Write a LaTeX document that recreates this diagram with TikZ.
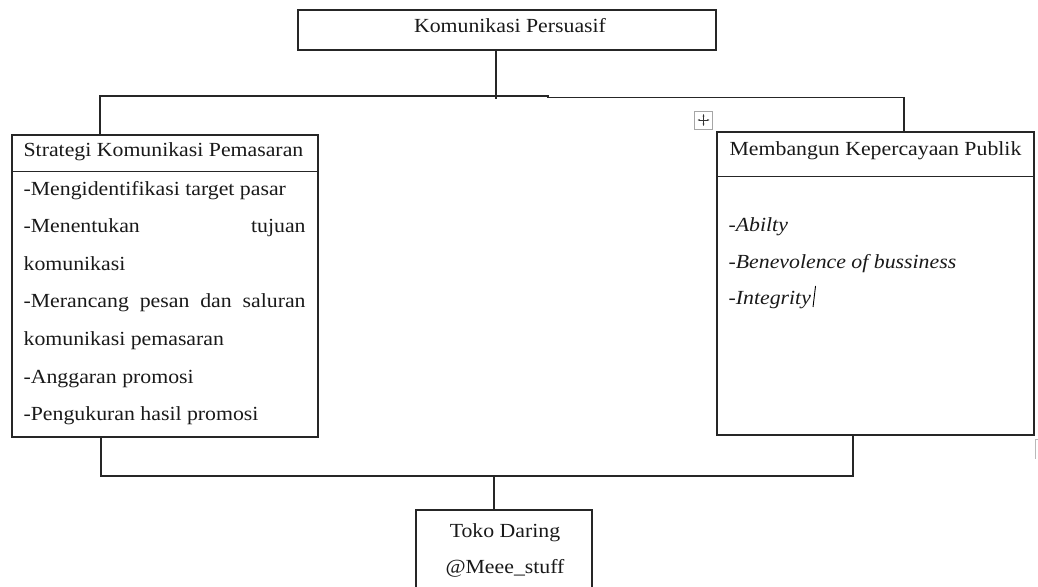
\documentclass[tikz,border=0pt]{standalone}
\usepackage{fontspec}
\setmainfont{Liberation Serif}[FakeStretch=1.09]
\usetikzlibrary{arrows.meta,calc}
\newcommand\fsz{\fontsize{20pt}{23pt}\selectfont}
\begin{document}
\begin{tikzpicture}[x=1pt,y=-1pt, line width=1.2pt, black!85,
  box/.style={draw, rectangle, inner sep=0pt},
  txt/.style={anchor=base west, inner sep=0pt, font=\fsz, text=black!90},
  ctxt/.style={anchor=base, inner sep=0pt, font=\fsz, text=black!90},
  itx/.style={anchor=base west, inner sep=0pt, font=\fsz\itshape, text=black!90}]
\useasboundingbox (0,0) rectangle (1038,586);
% boxes
\node[box, minimum width=418pt, minimum height=40pt] (top) at (507,30) {};
\node[box, minimum width=306pt, minimum height=302pt] (left) at (165,286) {};
\node[box, minimum width=317pt, minimum height=303pt] (right) at (875.5,283.5) {};
\node[box, minimum width=176pt, minimum height=90pt] (bot) at (504,555) {};
% header separators
\draw ([yshift=-37pt]left.north west) -- ([yshift=-37pt]left.north east);
\draw ([yshift=-45pt]right.north west) -- ([yshift=-45pt]right.north east);
% texts
\node[ctxt] (toptxt) at (510,33) {Komunikasi Persuasif};
\node[txt] (l0) at (23,156) {Strategi Komunikasi Pemasaran};
\node[txt] (l1) at (23,195) {-Mengidentifikasi target pasar};
\node[txt] (l2) at (23,232.6) {\makebox[282pt][s]{-Menentukan tujuan}};
\node[txt] (l3) at (23,270.2) {komunikasi};
\node[txt] (l4) at (23,307.8) {\makebox[282pt][s]{-Merancang pesan dan saluran}};
\node[txt] (l5) at (23,345.4) {komunikasi pemasaran};
\node[txt] (l6) at (23,383) {-Anggaran promosi};
\node[txt] (l7) at (23,420.6) {-Pengukuran hasil promosi};
\node[txt] (r0) at (729,155) {Membangun Kepercayaan Publik};
\node[itx] (r1) at (728,231) {-Abilty};
\node[itx] (r2) at (728,268) {-Benevolence of bussiness};
\node[itx] (r3) at (728,304) {-Integrity};
\node[ctxt] (b1) at (505,537) {Toko Daring};
\node[ctxt] (b2) at (505,573) {@Meee\_stuff};
% cursor
\draw[line width=0.9pt, black] ($(r3.base east)+(1.5,3)$) -- ++(2.5,-21);
% move handle
\node[draw=gray!70, line width=0.9pt, minimum size=18pt, inner sep=0pt] (handle) at (703.5,120) {};
\draw[gray!40!black, line width=0.6pt, {Stealth[length=2.5pt]}-{Stealth[length=2.5pt]}] ($(handle.center)+(-6,0)$) -- ($(handle.center)+(6,0)$);
\draw[gray!40!black, line width=0.6pt, {Stealth[length=2.5pt]}-{Stealth[length=2.5pt]}] ($(handle.center)+(0,-6)$) -- ($(handle.center)+(0,6)$);
% bracket artefact
\draw[gray!55, line width=1pt] (1038,439) -- (1035,439) -- (1035,459);
% connectors top
\coordinate (jtb) at (496,99);
\coordinate (hl) at (100,96);
\coordinate (hs) at (548,96);
\coordinate (hr) at (904,97.5);
\draw (jtb |- top.south) -- (jtb);
\draw (hl |- left.north) -- (hl) -- (hs) -- (hs |- hr) -- (hr) -- (hr |- right.north);
% connectors bottom
\coordinate (bl) at (101,476);
\coordinate (br) at (853,476);
\coordinate (bm) at (494,476);
\draw (bl |- left.south) -- (bl) -- (br) -- (br |- right.south);
\draw (bm) -- (bm |- bot.north);
\end{tikzpicture}
\end{document}
